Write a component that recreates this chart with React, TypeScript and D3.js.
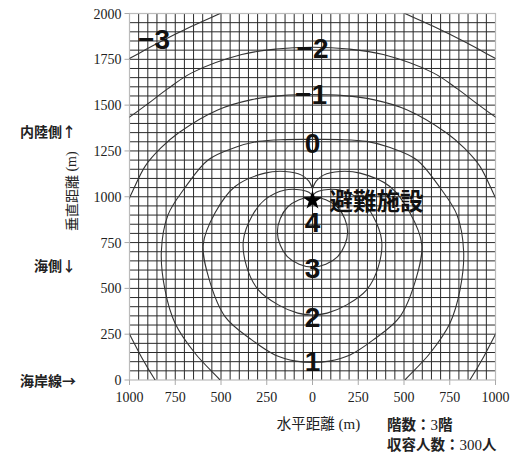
import React from 'react';
import * as d3 from 'd3';

const W = 517;
const H = 461;

// axis ticks
const xTicks = [-1000, -750, -500, -250, 0, 250, 500, 750, 1000];
const yTicks = [0, 250, 500, 750, 1000, 1250, 1500, 1750, 2000];
const gridStep = 50;

// contour lines (x: horizontal m, y: vertical m)
const contourM3Left: [number, number][] = [[-1040, 1735], [-1000, 1755], [-842, 1840], [-660, 1930], [-496, 2004], [-440, 2030]];
const contourM3Right: [number, number][] = [[440, 2030], [496, 2004], [660, 1930], [842, 1840], [1000, 1755], [1040, 1735]];
const contourM2: [number, number][] = [[-1040, 1410], [-1000, 1435], [-906, 1503], [-790, 1590], [-660, 1676], [-387, 1776], [-200, 1806], [0, 1816], [200, 1806], [387, 1776], [660, 1676], [790, 1590], [906, 1503], [1000, 1435], [1040, 1410]];
const contourM1: [number, number][] = [[-1030, 940], [-1000, 995], [-915, 1166], [-830, 1265], [-733, 1348], [-515, 1475], [-332, 1530], [-170, 1552], [0, 1558], [170, 1552], [332, 1530], [515, 1475], [733, 1348], [830, 1265], [915, 1166], [1000, 995], [1030, 940]];
const contour0: [number, number][] = [[-470, -40], [-505, 0], [-642, 146], [-751, 310], [-806, 492], [-826, 700], [-790, 900], [-700, 1045], [-569, 1202], [-420, 1270], [-296, 1302], [-150, 1312], [0, 1313], [150, 1312], [296, 1302], [420, 1270], [569, 1202], [700, 1045], [790, 900], [826, 700], [806, 492], [751, 310], [642, 146], [505, 0], [470, -40]];
const contour1: [number, number][] = [[0, 1045], [-20, 1085], [-60, 1118], [-150, 1138], [-260, 1129], [-423, 1056], [-533, 911], [-597, 740], [-569, 564], [-478, 346], [-332, 219], [-205, 137], [-90, 103], [0, 96], [90, 103], [205, 137], [332, 219], [478, 346], [569, 564], [597, 740], [533, 911], [423, 1056], [260, 1129], [150, 1138], [60, 1118], [20, 1085], [0, 1045]];
const contour2: [number, number][] = [[0, 1005], [-20, 1025], [-60, 1037], [-150, 1037], [-260, 984], [-332, 892], [-378, 760], [-360, 619], [-296, 492], [-187, 410], [-80, 365], [0, 355], [80, 365], [187, 410], [296, 492], [360, 619], [378, 760], [332, 892], [260, 984], [150, 1037], [60, 1037], [20, 1025], [0, 1005]];
const contour3: [number, number][] = [[0, 1000], [-136, 944], [-192, 808], [-136, 672], [0, 616], [136, 672], [192, 808], [136, 944]];
const cornerLeft: [number, number][] = [[-1020, 285], [-1000, 250], [-935, 126], [-860, 0], [-840, -30]];
const cornerRight: [number, number][] = [[1020, 285], [1000, 250], [935, 126], [860, 0], [840, -30]];

// contour value labels
const contourLabels = ['\u22123', '\u22122', '\u22121', '0', '1', '2', '3', '4'];
const labelX = [-866, 0, -8, 0, 0, 0, 0, 0];
const labelY = [1863, 1811, 1563, 1292, 104, 344, 612, 863];

// facility
const facility: [number, number] = [0, 980];
const facilityName = '避難施設';

// side labels
const sideLabels = ['内陸側↑', '海側↓', '海岸線→'];
const sideLabelY = [1361, 628, 0];

const xTitle = '水平距離';
const yTitle = '垂直距離';
const infoFloors = ['階数：', '3', '階'];
const infoPeople = ['収容人数：', '300', '人'];

export default function App() {
  const x = d3.scaleLinear().domain([-1000, 1000]).range([129.5, 495.5]);
  const y = d3.scaleLinear().domain([0, 2000]).range([380, 13.5]);

  const line = d3
    .line<[number, number]>()
    .x((d) => x(d[0]))
    .y((d) => y(d[1]))
    .curve(d3.curveCatmullRom.alpha(0.5));
  const closed = d3
    .line<[number, number]>()
    .x((d) => x(d[0]))
    .y((d) => y(d[1]))
    .curve(d3.curveCatmullRomClosed.alpha(0.5));

  const gx = d3.range(-1000 + gridStep, 1000, gridStep);
  const gy = d3.range(gridStep, 2000, gridStep);

  const openContours = [contourM3Left, contourM3Right, contourM2, contourM1, contour0, contour1, contour2, cornerLeft, cornerRight];

  const star = d3.symbol().type(d3.symbolStar).size(115)();

  const serif = '"Liberation Serif", "Times New Roman", serif';
  const cjk = '"Noto Sans CJK JP", "Noto Sans", sans-serif';
  const labelFont = '"Liberation Sans", Arial, sans-serif';
  const labelSize = 28;

  return (
    <svg
      width={W}
      height={H}
      viewBox={`0 0 ${W} ${H}`}
      style={{ position: 'absolute', left: 0, top: 0, background: '#fff' }}
    >
      <defs>
        <clipPath id="plotClip">
          <rect x={x(-1000)} y={y(2000)} width={x(1000) - x(-1000)} height={y(0) - y(2000)} />
        </clipPath>
      </defs>
      <rect x={0} y={0} width={W} height={H} fill="#fff" />

      {/* grid */}
      <g stroke="#2a2a2a" strokeWidth={1}>
        {gx.map((v) => (
          <line key={'gx' + v} x1={x(v)} x2={x(v)} y1={y(0)} y2={y(2000)} />
        ))}
        {gy.map((v) => (
          <line key={'gy' + v} x1={x(-1000)} x2={x(1000)} y1={y(v)} y2={y(v)} />
        ))}
      </g>

      {/* frame */}
      <rect
        x={x(-1000)}
        y={y(2000)}
        width={x(1000) - x(-1000)}
        height={y(0) - y(2000)}
        fill="none"
        stroke="#bbb"
        strokeWidth={1.2}
      />

      {/* contours */}
      <g clipPath="url(#plotClip)" fill="none" stroke="#333" strokeWidth={1.1}>
        {openContours.map((c, i) => (
          <path key={'c' + i} d={line(c) || ''} />
        ))}
        <path d={closed(contour3) || ''} />
      </g>

      {/* y axis ticks */}
      <g>
        {yTicks.map((t) => (
          <g key={'yt' + t}>
            <line x1={x(-1000) - 5} x2={x(-1000)} y1={y(t)} y2={y(t)} stroke="#aaa" strokeWidth={1} />
            <text
              x={x(-1000) - 8}
              y={y(t) + 5}
              textAnchor="end"
              style={{ fontFamily: serif, fontSize: 14 }}
              fill="#222"
            >
              {t}
            </text>
          </g>
        ))}
      </g>

      {/* x axis ticks */}
      <g>
        {xTicks.map((t) => (
          <g key={'xt' + t}>
            <line x1={x(t)} x2={x(t)} y1={y(0)} y2={y(0) + 5} stroke="#aaa" strokeWidth={1} />
            <text x={x(t)} y={y(0) + 22} textAnchor="middle" style={{ fontFamily: serif, fontSize: 14 }} fill="#222">
              {Math.abs(t)}
            </text>
          </g>
        ))}
      </g>

      {/* contour labels */}
      <g style={{ fontFamily: labelFont, fontWeight: 'bold', fontSize: labelSize }} fill="#111">
        {contourLabels.map((l, i) => (
          <text key={'l' + i} x={x(labelX[i])} y={y(labelY[i]) + labelSize * 0.36} textAnchor="middle">
            {l}
          </text>
        ))}
      </g>

      {/* facility */}
      <path d={star || ''} transform={`translate(${x(facility[0])},${y(facility[1])})`} fill="#000" />
      <text
        x={x(facility[0]) + 17}
        y={y(facility[1])}
        dominantBaseline="central"
        style={{ fontFamily: cjk, fontWeight: 'bold', fontSize: 23.5 }}
        fill="#111"
      >
        {facilityName}
      </text>

      {/* side labels */}
      <g style={{ fontFamily: cjk, fontWeight: 'bold', fontSize: 14 }} fill="#222">
        {sideLabels.map((s, i) => (
          <text key={'s' + i} x={76} y={y(sideLabelY[i])} textAnchor="end" dominantBaseline="central">
            {s}
          </text>
        ))}
      </g>

      {/* y title */}
      <text
        transform={`translate(71,${y(1030)}) rotate(-90)`}
        textAnchor="middle"
        dominantBaseline="central"
        style={{ fontFamily: cjk, fontSize: 14 }}
        fill="#222"
      >
        {yTitle}
        <tspan style={{ fontFamily: serif }}> (m)</tspan>
      </text>

      {/* x title */}
      <text x={x(0) + 6} y={429} textAnchor="middle" style={{ fontFamily: cjk, fontSize: 14.5 }} fill="#222">
        {xTitle}
        <tspan style={{ fontFamily: serif, fontSize: 15 }}> (m)</tspan>
      </text>

      {/* info */}
      <g style={{ fontFamily: cjk, fontSize: 14.5, fontWeight: 'bold' }} fill="#222">
        <text x={387} y={430}>
          {infoFloors[0]}
          <tspan style={{ fontFamily: serif, fontWeight: 'normal', fontSize: 15 }}>{infoFloors[1]}</tspan>
          {infoFloors[2]}
        </text>
        <text x={387} y={450}>
          {infoPeople[0]}
          <tspan style={{ fontFamily: serif, fontWeight: 'normal', fontSize: 15 }}>{infoPeople[1]}</tspan>
          {infoPeople[2]}
        </text>
      </g>
    </svg>
  );
}
